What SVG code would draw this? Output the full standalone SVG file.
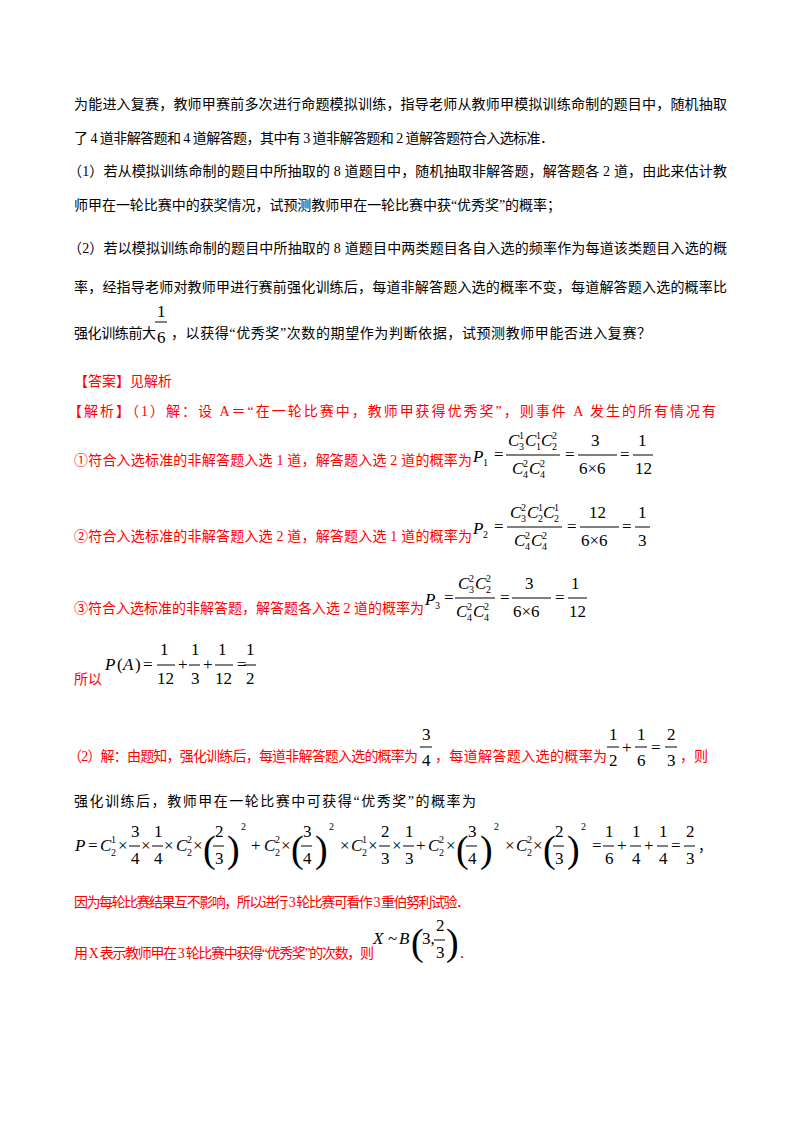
<svg xmlns="http://www.w3.org/2000/svg" width="800" height="1132" viewBox="0 0 800 1132">
<style>
text{font-family:"Liberation Serif","Noto Sans CJK SC",serif;font-size:14px;fill:#000}
.r{fill:#f00}
.m{font-family:"Liberation Serif",serif;font-size:17px}
.i{font-style:italic}
.s{font-size:10px}
.p{font-size:38px;font-weight:100}
line{stroke:#000;stroke-width:1}
</style>
<rect width="800" height="1132" fill="#fff"/>
<g id="question">
<text x="74" y="109" textLength="653">为能进入复赛，教师甲赛前多次进行命题模拟训练，指导老师从教师甲模拟训练命制的题目中，随机抽取</text>
<text x="74" y="143" textLength="480">了 4 道非解答题和 4 道解答题，其中有 3 道非解答题和 2 道解答题符合入选标准．</text>
<text x="68" y="176" textLength="659">（1）若从模拟训练命制的题目中所抽取的 8 道题目中，随机抽取非解答题，解答题各 2 道，由此来估计教</text>
<text x="74" y="210" textLength="487">师甲在一轮比赛中的获奖情况，试预测教师甲在一轮比赛中获“优秀奖”的概率；</text>
<text x="68" y="253" textLength="659">（2）若以模拟训练命制的题目中所抽取的 8 道题目中两类题目各自入选的频率作为每道该类题目入选的概</text>
<text x="74" y="292" textLength="653">率，经指导老师对教师甲进行赛前强化训练后，每道非解答题入选的概率不变，每道解答题入选的概率比</text>
<text x="74" y="338" textLength="82">强化训练前大</text>
<text class="m" x="157" y="317">1</text><line x1="155" y1="322" x2="167" y2="322"/><text class="m" x="157" y="343">6</text>
<text x="171" y="338" textLength="480">，以获得“优秀奖”次数的期望作为判断依据，试预测教师甲能否进入复赛？</text>
</g>
<g id="answer">
<text class="r" x="74" y="386">【答案】见解析</text>
<text class="r" x="68" y="416" textLength="648">【解析】（1）解：设 A＝“在一轮比赛中，教师甲获得优秀奖”，则事件 A 发生的所有情况有</text>
<text class="r" x="74" y="465" textLength="398">①符合入选标准的非解答题入选 1 道，解答题入选 2 道的概率为</text>
<text class="m i" x="473" y="462">P</text><text class="s" x="483" y="466">1</text><text class="m" x="494" y="460">=</text>
<text class="m i" x="508" y="446">C</text><text class="s" x="519" y="439">1</text><text class="s" x="519" y="450">3</text><text class="m i" x="525" y="446">C</text><text class="s" x="536" y="439">1</text><text class="s" x="536" y="450">1</text><text class="m i" x="541" y="446">C</text><text class="s" x="552" y="439">2</text><text class="s" x="552" y="450">2</text>
<line x1="506" y1="455" x2="560" y2="455"/>
<text class="m i" x="512" y="474">C</text><text class="s" x="523" y="467">2</text><text class="s" x="523" y="478">4</text><text class="m i" x="529" y="474">C</text><text class="s" x="540" y="467">2</text><text class="s" x="540" y="478">4</text>
<text class="m" x="565" y="460">=</text><text class="m" x="591" y="446">3</text><line x1="578" y1="455" x2="617" y2="455"/><text class="m" x="579" y="474">6×6</text>
<text class="m" x="620" y="460">=</text><text class="m" x="638" y="446">1</text><line x1="633" y1="455" x2="653" y2="455"/><text class="m" x="635" y="474">12</text>
<text class="r" x="74" y="541" textLength="398">②符合入选标准的非解答题入选 2 道，解答题入选 1 道的概率为</text>
<text class="m i" x="473" y="534">P</text><text class="s" x="483" y="538">2</text><text class="m" x="494" y="532">=</text>
<text class="m i" x="510" y="518">C</text><text class="s" x="521" y="511">2</text><text class="s" x="521" y="522">3</text><text class="m i" x="527" y="518">C</text><text class="s" x="538" y="511">1</text><text class="s" x="538" y="522">2</text><text class="m i" x="543" y="518">C</text><text class="s" x="554" y="511">1</text><text class="s" x="554" y="522">2</text>
<line x1="507" y1="527" x2="562" y2="527"/>
<text class="m i" x="514" y="546">C</text><text class="s" x="525" y="539">2</text><text class="s" x="525" y="550">4</text><text class="m i" x="531" y="546">C</text><text class="s" x="542" y="539">2</text><text class="s" x="542" y="550">4</text>
<text class="m" x="567" y="532">=</text><text class="m" x="589" y="518">12</text><line x1="580" y1="527" x2="619" y2="527"/><text class="m" x="581" y="546">6×6</text>
<text class="m" x="622" y="532">=</text><text class="m" x="638" y="518">1</text><line x1="635" y1="527" x2="650" y2="527"/><text class="m" x="638" y="546">3</text>
<text class="r" x="74" y="613" textLength="350">③符合入选标准的非解答题，解答题各入选 2 道的概率为</text>
<text class="m i" x="425" y="605">P</text><text class="s" x="435" y="609">3</text><text class="m" x="444" y="603">=</text>
<text class="m i" x="458" y="589">C</text><text class="s" x="469" y="582">2</text><text class="s" x="469" y="593">3</text><text class="m i" x="475" y="589">C</text><text class="s" x="486" y="582">2</text><text class="s" x="486" y="593">2</text>
<line x1="455" y1="598" x2="495" y2="598"/>
<text class="m i" x="456" y="617">C</text><text class="s" x="467" y="610">2</text><text class="s" x="467" y="621">4</text><text class="m i" x="473" y="617">C</text><text class="s" x="484" y="610">2</text><text class="s" x="484" y="621">4</text>
<text class="m" x="500" y="603">=</text><text class="m" x="525" y="589">3</text><line x1="512" y1="598" x2="551" y2="598"/><text class="m" x="513" y="617">6×6</text>
<text class="m" x="555" y="603">=</text><text class="m" x="571" y="589">1</text><line x1="568" y1="598" x2="587" y2="598"/><text class="m" x="569" y="617">12</text>
<text class="r" x="74" y="684">所以</text>
<text class="m i" x="105" y="670">P</text><text class="m" x="117" y="670">(</text><text class="m i" x="123" y="670">A</text><text class="m" x="135" y="670">)</text><text class="m" x="143" y="670">=</text>
<text class="m" x="160" y="655">1</text><line x1="157" y1="665" x2="175" y2="665"/><text class="m" x="157" y="684">12</text>
<text class="m" x="178" y="670">+</text><text class="m" x="191" y="655">1</text><line x1="189" y1="665" x2="200" y2="665"/><text class="m" x="191" y="684">3</text>
<text class="m" x="203" y="670">+</text><text class="m" x="218" y="655">1</text><line x1="215" y1="665" x2="233" y2="665"/><text class="m" x="215" y="684">12</text>
<text class="m" x="237" y="670">=</text><text class="m" x="246" y="655">1</text><line x1="244" y1="665" x2="256" y2="665"/><text class="m" x="246" y="684">2</text>
<text class="r" x="68" y="761" textLength="350">（2）解：由题知，强化训练后，每道非解答题入选的概率为</text>
<text class="m" x="422" y="740">3</text><line x1="420" y1="747" x2="432" y2="747"/><text class="m" x="422" y="766">4</text>
<text class="r" x="435" y="761" textLength="172">，每道解答题入选的概率为</text>
<text class="m" x="609" y="740">1</text><line x1="607" y1="747" x2="619" y2="747"/><text class="m" x="609" y="766">2</text>
<text class="m" x="622" y="753">+</text><text class="m" x="637" y="740">1</text><line x1="635" y1="747" x2="647" y2="747"/><text class="m" x="637" y="766">6</text>
<text class="m" x="651" y="753">=</text><text class="m" x="667" y="740">2</text><line x1="665" y1="747" x2="677" y2="747"/><text class="m" x="667" y="766">3</text>
<text class="r" x="680" y="761">，则</text>
<text x="74" y="806" textLength="402">强化训练后，教师甲在一轮比赛中可获得“优秀奖”的概率为</text>
<g id="pformula">
<text class="m i" x="75" y="851">P</text><text class="m" x="88" y="851">=</text><text class="m i" x="100" y="851">C</text><text class="s" x="111" y="843">1</text><text class="s" x="111" y="856">2</text><text class="m" x="118" y="851">×</text>
<text class="m" x="131" y="837">3</text><line x1="129" y1="846" x2="140" y2="846"/><text class="m" x="131" y="864">4</text><text class="m" x="141" y="851">×</text>
<text class="m" x="154" y="837">1</text><line x1="152" y1="846" x2="163" y2="846"/><text class="m" x="154" y="864">4</text><text class="m" x="164" y="851">×</text>
<text class="m i" x="176" y="851">C</text><text class="s" x="187" y="843">2</text><text class="s" x="187" y="856">2</text><text class="m" x="193" y="851">×</text>
<text class="p" x="203" y="862">(</text><text class="m" x="215" y="837">2</text><line x1="213" y1="846" x2="224" y2="846"/><text class="m" x="215" y="864">3</text><text class="p" x="227" y="862">)</text><text class="s" x="241" y="830">2</text>
<text class="m" x="251" y="851">+</text><text class="m i" x="264" y="851">C</text><text class="s" x="275" y="843">2</text><text class="s" x="275" y="856">2</text><text class="m" x="281" y="851">×</text>
<text class="p" x="291" y="862">(</text><text class="m" x="303" y="837">3</text><line x1="301" y1="846" x2="312" y2="846"/><text class="m" x="303" y="864">4</text><text class="p" x="315" y="862">)</text><text class="s" x="329" y="830">2</text>
<text class="m" x="340" y="851">×</text><text class="m i" x="351" y="851">C</text><text class="s" x="362" y="843">1</text><text class="s" x="362" y="856">2</text><text class="m" x="368" y="851">×</text>
<text class="m" x="381" y="837">2</text><line x1="379" y1="846" x2="390" y2="846"/><text class="m" x="381" y="864">3</text><text class="m" x="392" y="851">×</text>
<text class="m" x="405" y="837">1</text><line x1="403" y1="846" x2="414" y2="846"/><text class="m" x="405" y="864">3</text><text class="m" x="416" y="851">+</text>
<text class="m i" x="428" y="851">C</text><text class="s" x="439" y="843">2</text><text class="s" x="439" y="856">2</text><text class="m" x="446" y="851">×</text>
<text class="p" x="456" y="862">(</text><text class="m" x="468" y="837">3</text><line x1="466" y1="846" x2="477" y2="846"/><text class="m" x="468" y="864">4</text><text class="p" x="480" y="862">)</text><text class="s" x="494" y="830">2</text>
<text class="m" x="505" y="851">×</text><text class="m i" x="516" y="851">C</text><text class="s" x="527" y="843">2</text><text class="s" x="527" y="856">2</text><text class="m" x="533" y="851">×</text>
<text class="p" x="543" y="862">(</text><text class="m" x="555" y="837">2</text><line x1="553" y1="846" x2="564" y2="846"/><text class="m" x="555" y="864">3</text><text class="p" x="567" y="862">)</text><text class="s" x="581" y="830">2</text>
<text class="m" x="592" y="851">=</text><text class="m" x="605" y="837">1</text><line x1="603" y1="846" x2="614" y2="846"/><text class="m" x="605" y="864">6</text>
<text class="m" x="617" y="851">+</text><text class="m" x="632" y="837">1</text><line x1="630" y1="846" x2="641" y2="846"/><text class="m" x="632" y="864">4</text>
<text class="m" x="644" y="851">+</text><text class="m" x="659" y="837">1</text><line x1="657" y1="846" x2="668" y2="846"/><text class="m" x="659" y="864">4</text>
<text class="m" x="671" y="851">=</text><text class="m" x="686" y="837">2</text><line x1="684" y1="846" x2="695" y2="846"/><text class="m" x="686" y="864">3</text>
<text x="698" y="851">，</text>
</g>
<text class="r" x="74" y="907" textLength="396">因为每轮比赛结果互不影响，所以进行 3 轮比赛可看作 3 重伯努利试验．</text>
<text class="r" x="74" y="958" textLength="300">用 X 表示教师甲在 3 轮比赛中获得“优秀奖”的次数，则</text>
<text class="m i" x="373" y="944">X</text><text class="m" x="388" y="944">~</text><text class="m i" x="399" y="944">B</text>
<text class="p" x="411" y="955">(</text><text class="m" x="422" y="944">3,</text><text class="m" x="436" y="931">2</text><line x1="434" y1="940" x2="445" y2="940"/><text class="m" x="436" y="958">3</text>
<text class="p" x="446" y="955">)</text><text class="m r" x="460" y="958">.</text>
</g>
</svg>
